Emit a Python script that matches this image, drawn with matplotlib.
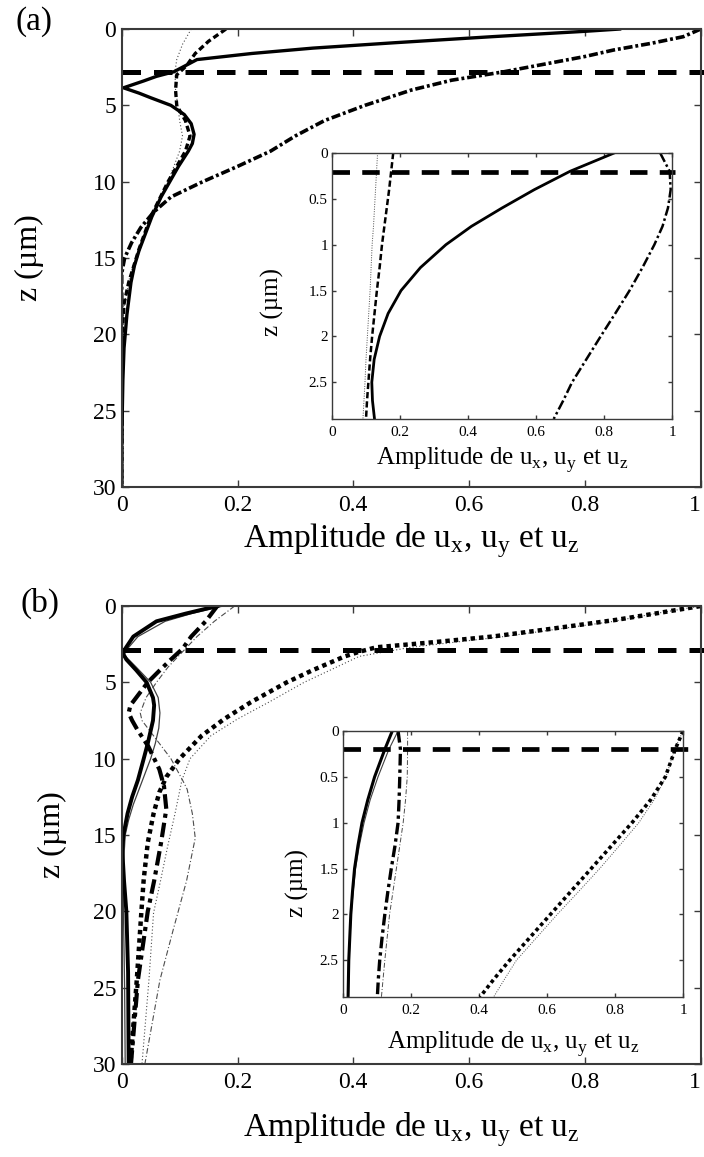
import matplotlib
matplotlib.use('Agg')
import matplotlib.pyplot as plt

plt.rcParams['font.family'] = ['Liberation Serif', 'DejaVu Serif']
plt.rcParams['mathtext.fontset'] = 'custom'
plt.rcParams['mathtext.rm'] = 'Liberation Serif'

XLABEL = 'Amplitude de u$_\\mathrm{x}$, u$_\\mathrm{y}$ et u$_\\mathrm{z}$'
YLABEL = 'z (\u00b5m)'

# ---------------- panel (a), main axes ----------------
za_solid = [0, 0.15, 0.5, 0.9, 1.25, 1.6, 2.0, 2.4, 2.8, 3.1, 3.4, 3.85, 4.2, 4.5,
            5.0, 5.6, 6.2, 6.9, 7.5, 8.0, 9.0, 10.0, 11.0, 12.3, 13.5, 14.5, 15.5,
            16.6, 18.7, 20.9, 23.0, 25.0, 27.5, 30.0]
a_solid = [0.86, 0.80, 0.64, 0.47, 0.33, 0.225, 0.13, 0.11, 0.09, 0.06, 0.038, 0.003,
           0.03, 0.05, 0.085, 0.108, 0.12, 0.125, 0.122, 0.115, 0.098, 0.083, 0.068,
           0.052, 0.04, 0.03, 0.022, 0.016, 0.009, 0.004, 0.002, 0.001, 0.0, 0.0]

za_dot = [0, 1.0, 2.0, 2.8, 4.0, 5.0, 6.0, 7.0, 8.0, 10.0, 12.0, 14.0, 16.0, 18.0, 20.0, 30.0]
a_dot = [0.12, 0.105, 0.095, 0.092, 0.093, 0.097, 0.1, 0.105, 0.1, 0.08, 0.055, 0.035,
         0.015, 0.005, 0.0, 0.0]

za_dash = [0, 0.8, 1.6, 2.4, 3.0, 4.0, 5.0, 6.0, 7.0, 8.0, 10.0, 12.3, 14.4, 16.6, 18.0,
           20.0, 30.0]
a_dash = [0.18, 0.15, 0.127, 0.112, 0.095, 0.093, 0.095, 0.11, 0.118, 0.11, 0.08, 0.05,
          0.03, 0.012, 0.004, 0.001, 0.0]

za_dashdot = [0, 0.5, 0.94, 1.37, 1.8, 2.3, 2.8, 3.35, 4.0, 5.0, 6.0, 7.0, 8.0, 9.0,
              10.0, 11.0, 12.0, 13.0, 14.0, 15.0, 16.0, 30.0]
a_dashdot = [1.0, 0.97, 0.914, 0.85, 0.80, 0.73, 0.66, 0.57, 0.5, 0.42, 0.35, 0.3,
             0.257, 0.2, 0.14, 0.085, 0.055, 0.033, 0.017, 0.005, 0.0, 0.0]

# ---------------- panel (a), inset ----------------
zi_a = [0, 0.2, 0.4, 0.6, 0.8, 1.0, 1.25, 1.5, 1.75, 2.0, 2.25, 2.5, 2.7, 2.9]
ia_solid = [0.83, 0.70, 0.595, 0.5, 0.41, 0.335, 0.26, 0.203, 0.165, 0.14, 0.124, 0.117,
            0.119, 0.125]
ia_dot = [0.134, 0.131, 0.128, 0.125, 0.122, 0.118, 0.115, 0.112, 0.108, 0.104, 0.1,
          0.097, 0.094, 0.091]
ia_dash = [0.18, 0.174, 0.168, 0.161, 0.154, 0.147, 0.14, 0.132, 0.125, 0.118, 0.112,
           0.107, 0.103, 0.1]
ia_dashdot = [0.965, 0.993, 0.996, 0.988, 0.972, 0.948, 0.913, 0.875, 0.833, 0.79, 0.748,
              0.706, 0.68, 0.652]

# ---------------- panel (b), main axes ----------------
zb_solid = [0, 0.5, 1.0, 2.0, 2.8, 3.1, 3.5, 4.2, 5.0, 6.0, 6.5, 7.5, 9.0, 10.0, 11.4,
            12.5, 13.6, 15.0, 16.0, 18.0, 20.0, 24.0, 30.0]
b_solid = [0.165, 0.11, 0.06, 0.02, 0.006, 0.002, 0.008, 0.025, 0.043, 0.054, 0.056,
           0.054, 0.045, 0.038, 0.028, 0.018, 0.01, 0.003, 0.001, 0.004, 0.008, 0.011,
           0.012]

zb_thin = [0, 0.5, 1.0, 2.0, 2.8, 3.2, 4.0, 5.0, 6.0, 7.0, 8.0, 9.0, 10.0, 11.0, 12.0,
           13.0, 14.0, 15.0, 17.0, 20.0, 25.0, 30.0]
b_thin = [0.175, 0.12, 0.075, 0.028, 0.01, 0.004, 0.025, 0.05, 0.063, 0.066, 0.064,
          0.058, 0.05, 0.04, 0.03, 0.02, 0.012, 0.006, 0.003, 0.003, 0.005, 0.006]

zb_dashdot = [0, 1.0, 2.0, 2.8, 3.5, 4.2, 5.0, 6.0, 6.5, 7.0, 7.5, 8.1, 9.2, 10.7, 11.8,
              13.3, 15.5, 18.0, 20.0, 24.5, 30.0]
b_dashdot = [0.165, 0.145, 0.12, 0.105, 0.085, 0.066, 0.045, 0.025, 0.015, 0.012, 0.018,
             0.027, 0.046, 0.065, 0.073, 0.077, 0.068, 0.056, 0.045, 0.028, 0.016]

zb_thindd = [0, 1.0, 2.0, 2.8, 4.0, 5.0, 6.0, 7.0, 7.5, 8.5, 10.0, 11.4, 12.0, 13.6,
             15.2, 16.5, 18.0, 21.2, 24.5, 30.0]
b_thindd = [0.195, 0.16, 0.13, 0.11, 0.08, 0.06, 0.042, 0.032, 0.035, 0.055, 0.085,
            0.105, 0.113, 0.122, 0.127, 0.12, 0.112, 0.089, 0.066, 0.04]

zb_dots = [0, 0.5, 0.9, 1.5, 2.0, 2.4, 2.7, 3.0, 3.3, 4.2, 5.0, 6.3, 7.4, 8.5, 10.0,
           11.2, 12.2, 13.6, 15.5, 17.9, 20.0, 24.5, 30.0]
b_dots = [1.0, 0.92, 0.855, 0.74, 0.64, 0.53, 0.44, 0.41, 0.385, 0.33, 0.285, 0.223,
          0.177, 0.138, 0.1, 0.077, 0.065, 0.055, 0.045, 0.038, 0.034, 0.026, 0.015]

zb_thindot = [0, 0.5, 1.0, 2.0, 2.7, 3.3, 4.2, 5.0, 6.3, 7.4, 8.5, 10.0, 11.4, 13.6,
              15.8, 18.0, 20.1, 24.5, 30.0]
b_thindot = [1.0, 0.92, 0.85, 0.66, 0.5, 0.41, 0.36, 0.315, 0.254, 0.2, 0.154, 0.118,
             0.104, 0.092, 0.079, 0.067, 0.055, 0.047, 0.035]

# ---------------- panel (b), inset ----------------
zi_b = [0, 0.2, 0.5, 0.75, 1.0, 1.25, 1.5, 1.75, 2.0, 2.25, 2.5, 2.7, 2.9]
ib_solid = [0.145, 0.123, 0.093, 0.073, 0.056, 0.044, 0.034, 0.028, 0.023, 0.02, 0.017,
            0.016, 0.015]
ib_thin = [0.162, 0.135, 0.103, 0.08, 0.062, 0.048, 0.037, 0.03, 0.024, 0.021, 0.018,
           0.017, 0.016]
ib_dashdot = [0.162, 0.169, 0.167, 0.165, 0.162, 0.153, 0.142, 0.132, 0.123, 0.115,
              0.108, 0.104, 0.101]
ib_thindd = [0.19, 0.19, 0.189, 0.184, 0.177, 0.167, 0.157, 0.147, 0.137, 0.13, 0.123,
             0.118, 0.113]
ib_dots = [1.0, 0.977, 0.948, 0.905, 0.85, 0.79, 0.73, 0.67, 0.61, 0.55, 0.49, 0.445,
           0.403]
ib_thindot = [1.0, 0.975, 0.95, 0.915, 0.87, 0.813, 0.755, 0.693, 0.63, 0.57, 0.51,
              0.476, 0.443]

x_ticks = [0, 0.2, 0.4, 0.6, 0.8, 1]
x_ticklabels = ['0', '0.2', '0.4', '0.6', '0.8', '1']

dash_main = (0, (3.7, 2.6))
grey_spine = '#3a3a3a'


def style_axes(ax, yticks, ymax, lab, tick, length, pad_x, pad_y, last_right=False):
    ax.set_xlim(0, 1)
    ax.set_ylim(ymax, 0)
    ax.set_xticks(x_ticks)
    labels = ax.set_xticklabels(x_ticklabels)
    if last_right:
        # the "1" sits on the figure edge: anchor it by its right side
        labels[-1].set_horizontalalignment('right')
    ax.set_yticks(yticks)
    ax.set_yticklabels([('%g' % v) for v in yticks])
    ax.tick_params(direction='in', top=True, right=True, labelsize=tick,
                   length=length, width=1.0, color=grey_spine)
    ax.tick_params(axis='x', pad=pad_x)
    ax.tick_params(axis='y', pad=pad_y)
    for s in ax.spines.values():
        s.set_color(grey_spine)
        s.set_linewidth(lab)


fig = plt.figure(figsize=(7.04, 11.57), dpi=100)

# ---------- (a) ----------
ax = fig.add_axes([0.1729, 0.5791, 0.8224, 0.3958])
ax.plot(a_dot, za_dot, color='0.3', lw=0.8, ls=(0, (1, 2)))
ax.plot(a_dash, za_dash, color='k', lw=2.4, ls=(0, (1.8, 1.0)))
ax.plot(a_dashdot, za_dashdot, color='k', lw=2.6, ls=(0, (2.5, 0.8, 0.8, 0.8)))
ax.plot(a_solid, za_solid, color='k', lw=2.4)
ax.plot([0, 1.005], [2.83, 2.83], color='k', lw=3.6, ls=dash_main, clip_on=False)
style_axes(ax, [0, 5, 10, 15, 20, 25, 30], 30, 1.5, 17, 5, 6, 4, last_right=True)
ax.set_xlabel(XLABEL, fontsize=24)
ax.xaxis.set_label_coords(0.5, -0.075)
ax.set_ylabel(YLABEL, fontsize=23)
ax.yaxis.set_label_coords(-0.135, 0.5)

ins = fig.add_axes([0.4716, 0.6379, 0.483, 0.2299])
ins.plot(ia_dot, zi_a, color='0.3', lw=0.7, ls=(0, (1, 1.5)))
ins.plot(ia_dash, zi_a, color='k', lw=1.8, ls=(0, (2.5, 1.2)))
ins.plot(ia_dashdot, zi_a, color='k', lw=1.8, ls=(0, (4, 1.2, 1, 1.2)))
ins.plot(ia_solid, zi_a, color='k', lw=2.0)
ins.plot([0, 1.01], [0.21, 0.21], color='k', lw=3.4, ls=dash_main, clip_on=False)
style_axes(ins, [0, 0.5, 1, 1.5, 2, 2.5], 2.9, 1.0, 11, 3, 5, 3)
ins.set_xlabel(XLABEL, fontsize=18)
ins.xaxis.set_label_coords(0.5, -0.1)
ins.set_ylabel(YLABEL, fontsize=18)
ins.yaxis.set_label_coords(-0.14, 0.44)

fig.text(34 / 704, 1 - 22 / 1157, '(a)', fontsize=24, ha='center', va='center')

# ---------- (b) ----------
bx = fig.add_axes([0.1729, 0.0804, 0.8224, 0.3958])
bx.plot(b_thindot, zb_thindot, color='0.3', lw=0.8, ls=(0, (1, 2)))
bx.plot(b_thindd, zb_thindd, color='0.3', lw=0.8, ls=(0, (5, 2, 1, 2)))
bx.plot(b_thin, zb_thin, color='0.25', lw=0.9)
bx.plot(b_dots, zb_dots, color='k', lw=3.2, ls=(0, (1, 0.9)))
bx.plot(b_dashdot, zb_dashdot, color='k', lw=3.0, ls=(0, (3.5, 1.2, 1, 1.2)))
bx.plot(b_solid, zb_solid, color='k', lw=2.8)
bx.plot([0, 1.005], [2.85, 2.85], color='k', lw=3.6, ls=dash_main, clip_on=False)
style_axes(bx, [0, 5, 10, 15, 20, 25, 30], 30, 1.5, 17, 5, 6, 4, last_right=True)
bx.set_xlabel(XLABEL, fontsize=24)
bx.xaxis.set_label_coords(0.5, -0.1)
bx.set_ylabel(YLABEL, fontsize=23)
bx.yaxis.set_label_coords(-0.095, 0.5)

inb = fig.add_axes([0.4872, 0.1383, 0.483, 0.2299])
inb.plot(ib_thindot, zi_b, color='0.3', lw=0.7, ls=(0, (1, 1.5)))
inb.plot(ib_thindd, zi_b, color='0.3', lw=0.7, ls=(0, (5, 2, 1, 2)))
inb.plot(ib_thin, zi_b, color='0.25', lw=0.8)
inb.plot(ib_dots, zi_b, color='k', lw=2.6, ls=(0, (1, 0.9)))
inb.plot(ib_dashdot, zi_b, color='k', lw=2.4, ls=(0, (3.5, 1.2, 1, 1.2)))
inb.plot(ib_solid, zi_b, color='k', lw=2.2)
inb.plot([0, 1.015], [0.2, 0.2], color='k', lw=3.4, ls=dash_main, clip_on=False)
style_axes(inb, [0, 0.5, 1, 1.5, 2, 2.5], 2.9, 1.0, 11, 3, 5, 3)
inb.set_xlabel(XLABEL, fontsize=18)
inb.xaxis.set_label_coords(0.5, -0.12)
inb.set_ylabel(YLABEL, fontsize=18)
inb.yaxis.set_label_coords(-0.1, 0.43)

fig.text(40 / 704, 1 - 603 / 1157, '(b)', fontsize=24, ha='center', va='center')

fig.savefig('out.png', dpi=100)
